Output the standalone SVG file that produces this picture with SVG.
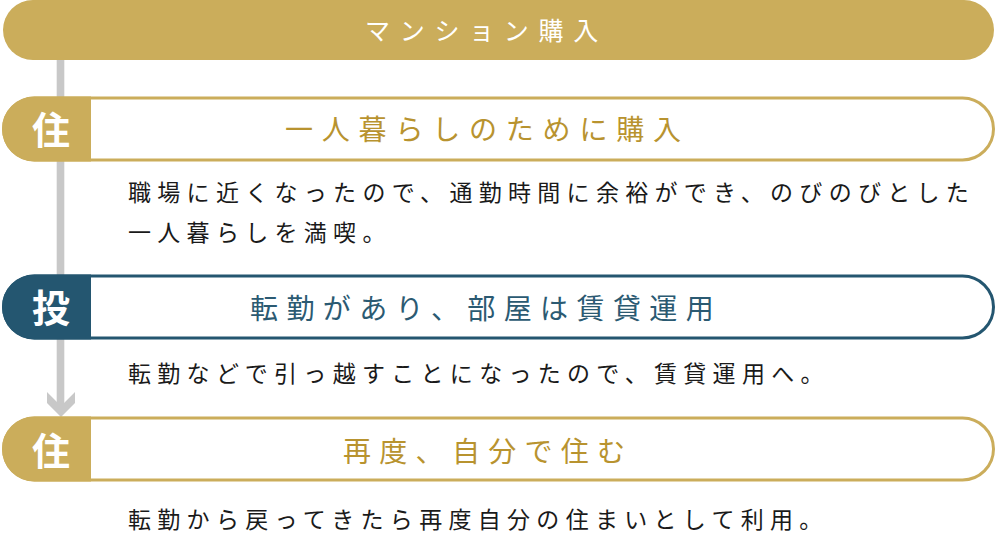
<svg xmlns="http://www.w3.org/2000/svg" width="997" height="559" viewBox="0 0 997 559">
<style>
text{font-family:"Noto Sans CJK JP","Noto Sans CJK SC",sans-serif}
.top{font-size:25px;fill:#fff;letter-spacing:9.7px}
.lbl{font-size:38px;font-weight:bold;fill:#fff}
.ttl{font-size:28px}
.gold .ttl{fill:#B8932F}
.blue .ttl{fill:#2B5A72}
.desc{font-size:23px;fill:#1a1a1a;letter-spacing:6.3px}
.gold .frame{fill:#fff;stroke:#CBAD5B;stroke-width:3}
.gold .cap{fill:#CBAD5B}
.blue .frame{fill:#fff;stroke:#245670;stroke-width:3}
.blue .cap{fill:#245670}
</style>
<rect width="997" height="559" fill="#fff"/>
<g id="connectors">
<rect x="56.7" y="58" width="7.6" height="350" fill="#C8C8C8"/>
<polygon points="47,392 61,406 75,392 75,403 61,417 47,403" fill="#C8C8C8"/>
</g>
<g id="header">
<rect x="3" y="0" width="991" height="60" rx="30" fill="#CBAD5B"/>
<text class="top" x="365" y="39.5">マンション購入</text>
</g>
<g id="step1" class="gold">
<rect class="frame" x="3.5" y="98" width="990" height="62" rx="31"/>
<path class="cap" d="M91 96.5 L34.5 96.5 A32.5 32.5 0 0 0 34.5 161.5 L91 161.5 Z"/>
<text class="lbl" x="51" y="143.5" text-anchor="middle">住</text>
<text class="ttl" x="285" y="139.5" letter-spacing="8.8">一人暮らしのために購入</text>
</g>
<g id="desc1">
<text class="desc" x="128" y="200.5">職場に近くなったので、通勤時間に余裕ができ、のびのびとした</text>
<text class="desc" x="128" y="240.5">一人暮らしを満喫。</text>
</g>
<g id="step2" class="blue">
<rect class="frame" x="3.5" y="276" width="990" height="62" rx="31"/>
<path class="cap" d="M91 274.5 L34.5 274.5 A32.5 32.5 0 0 0 34.5 339.5 L91 339.5 Z"/>
<text class="lbl" x="51" y="321.5" text-anchor="middle">投</text>
<text class="ttl" x="250" y="318.5" letter-spacing="8.4">転勤があり、部屋は賃貸運用</text>
</g>
<g id="desc2">
<text class="desc" x="128" y="381.5" letter-spacing="5.4">転勤などで引っ越すことになったので、賃貸運用へ。</text>
</g>
<g id="step3" class="gold">
<rect class="frame" x="3.5" y="418" width="990" height="62" rx="31"/>
<path class="cap" d="M91 416.5 L34.5 416.5 A32.5 32.5 0 0 0 34.5 481.5 L91 481.5 Z"/>
<text class="lbl" x="51" y="464.5" text-anchor="middle">住</text>
<text class="ttl" x="343" y="461.5" letter-spacing="8.3">再度、自分で住む</text>
</g>
<g id="desc3">
<text class="desc" x="128" y="527.5" letter-spacing="5.8">転勤から戻ってきたら再度自分の住まいとして利用。</text>
</g>
</svg>
